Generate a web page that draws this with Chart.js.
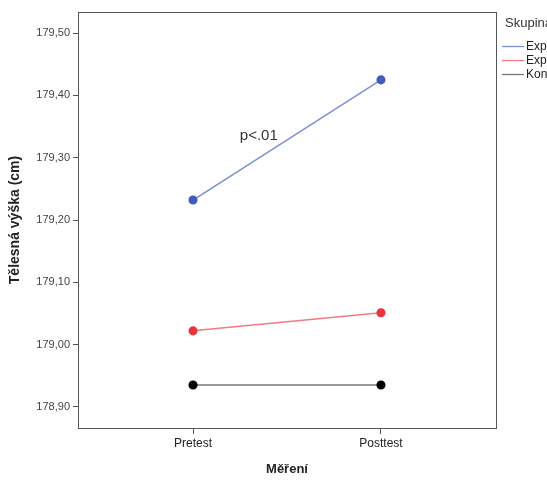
<!DOCTYPE html>
<html><head><meta charset="utf-8">
<script src="https://cdn.jsdelivr.net/npm/chart.js@4"></script>
<style>html,body{margin:0;padding:0;background:#fff}#w{width:547px;height:480px;position:relative}</style>
</head><body><div id="w"><canvas id="c"></canvas></div>
<script>
const categories = ['Pretest', 'Posttest'];
const seriesNames = ['Experimentální 1', 'Experimentální 2', 'Kontrolní'];
const exp1 = [179.232, 179.425];
const exp2 = [179.022, 179.051];
const kontrol = [178.935, 178.935];
const yTicks = [178.9, 179.0, 179.1, 179.2, 179.3, 179.4, 179.5];
const legendTitle = 'Skupina';
const note = 'p<.01';

const lineColors = ['#7d8fd3', '#f27a80', '#777777'];
const pointColors = ['#3f5cbc', '#e9333d', '#000000'];
const all = [exp1, exp2, kontrol];

const datasets = all.map((s, i) => ({
  label: seriesNames[i],
  data: s.map((v, j) => ({x: j, y: v})),
  borderColor: lineColors[i],
  backgroundColor: pointColors[i],
  pointBackgroundColor: pointColors[i],
  pointBorderColor: pointColors[i],
  pointRadius: 3.8,
  borderWidth: 1.5,
  tension: 0
}));

const framePlugin = {
  id: 'frame',
  afterDraw(chart) {
    const {ctx, chartArea: a, scales} = chart;
    ctx.save();
    ctx.strokeStyle = '#555';
    ctx.lineWidth = 1;
    ctx.strokeRect(Math.round(a.left) + 0.5, Math.round(a.top) + 0.5, Math.round(a.right - a.left), Math.round(a.bottom - a.top));
    // annotation
    ctx.fillStyle = '#333';
    ctx.font = '15px "Liberation Sans", Arial, sans-serif';
    ctx.textAlign = 'center';
    ctx.textBaseline = 'middle';
    ctx.fillText(note, scales.x.getPixelForValue(0.35), scales.y.getPixelForValue(179.335));
    // legend
    ctx.textAlign = 'left';
    ctx.font = '13px "Liberation Sans", Arial, sans-serif';
    ctx.fillStyle = '#333';
    ctx.fillText(legendTitle, 505, 23);
    ctx.font = '12px "Liberation Sans", Arial, sans-serif';
    seriesNames.forEach((n, i) => {
      const y = 46 + i * 14;
      ctx.strokeStyle = lineColors[i];
      ctx.lineWidth = 1.3;
      ctx.beginPath(); ctx.moveTo(502, Math.round(y) + 0.5); ctx.lineTo(524, Math.round(y) + 0.5); ctx.stroke();
      ctx.fillStyle = '#222';
      ctx.fillText(n, 526, y + 1);
    });
    ctx.restore();
  }
};

new Chart(document.getElementById('c'), {
  type: 'line',
  data: {datasets},
  options: {
    responsive: true,
    maintainAspectRatio: false,
    animation: false,
    layout: {padding: {top: 12, right: 51, left: 0, bottom: 0}},
    plugins: {legend: {display: false}, tooltip: {enabled: false}},
    scales: {
      x: {
        type: 'linear',
        min: -0.612,
        max: 1.612,
        afterBuildTicks(s) { s.ticks = categories.map((c, i) => ({value: i})); },
        afterFit(s) { s.height = 52; },
        ticks: {
          callback: (v) => categories[v] ?? '',
          color: '#222',
          font: {size: 12, family: '"Liberation Sans", Arial, sans-serif'},
          padding: 2,
          maxRotation: 0
        },
        grid: {drawOnChartArea: false, drawTicks: true, tickLength: 6, color: '#555'},
        border: {display: true, color: '#555'},
        title: {display: true, text: 'Měření', color: '#222', font: {size: 13, weight: 'bold', family: '"Liberation Sans", Arial, sans-serif'}, padding: {top: 3, bottom: 3}}
      },
      y: {
        type: 'linear',
        min: 178.866,
        max: 179.534,
        afterBuildTicks(s) { s.ticks = yTicks.map(v => ({value: v})); },
        afterFit(s) { s.width = 78; },
        ticks: {
          callback: (v) => v.toFixed(2).replace('.', ','),
          color: '#444',
          font: {size: 11, family: '"Liberation Sans", Arial, sans-serif'},
          padding: 3
        },
        grid: {drawOnChartArea: false, drawTicks: true, tickLength: 5, color: '#555'},
        border: {display: true, color: '#555'},
        title: {display: true, text: 'Tělesná výška (cm)', color: '#222', font: {size: 14, weight: 'bold', family: '"Liberation Sans", Arial, sans-serif'}, padding: {top: 7, bottom: 4}}
      }
    }
  },
  plugins: [framePlugin]
});
</script></body></html>
